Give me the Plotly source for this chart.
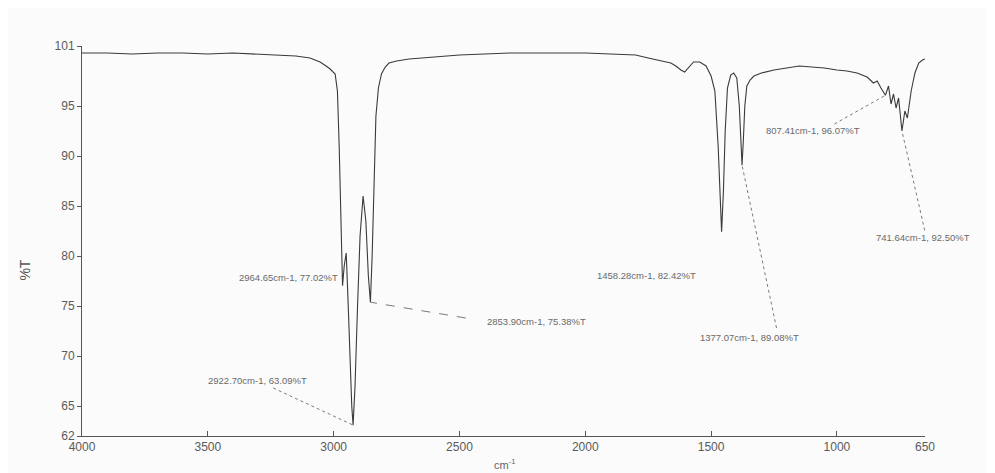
import plotly.graph_objects as go

# IR spectrum: wavenumber (cm-1) and transmittance (%T)
wavenumber = [4000, 3900, 3800, 3700, 3600, 3500, 3400, 3300, 3200, 3150, 3094, 3054, 3030, 3014, 2994,
              2985, 2978, 2972, 2964.65, 2958, 2950, 2942, 2935, 2928, 2922.7, 2915, 2905, 2895, 2883,
              2872, 2862, 2853.9, 2847, 2840, 2832, 2822, 2810, 2795, 2780, 2750, 2700, 2650, 2600,
              2500, 2400, 2300, 2200, 2100, 2000, 1900, 1800, 1750, 1700, 1660, 1640, 1620, 1605, 1590,
              1570, 1545, 1520, 1500, 1485, 1472, 1465, 1458.28, 1451, 1444, 1435, 1422, 1410, 1398,
              1388, 1382, 1377.07, 1372, 1366, 1358, 1345, 1330, 1300, 1250, 1200, 1150, 1100, 1050,
              1000, 960, 920, 880, 855, 840, 825, 807.41, 795, 785, 775, 765, 755, 741.64, 730, 720,
              705, 690, 675, 660, 650]
transmittance = [100.3, 100.3, 100.2, 100.3, 100.3, 100.2, 100.3, 100.2, 100.1, 100.0, 99.8, 99.4, 99.0, 98.7, 98.2,
                 96.5, 91.0, 84.0, 77.02, 79.0, 80.3, 75.0, 69.5, 65.0, 63.09, 67.0, 75.0, 82.0, 86.0,
                 83.5, 78.0, 75.38, 80.0, 88.0, 94.0, 96.8, 98.2, 98.9, 99.3, 99.5, 99.7, 99.8, 99.9,
                 100.1, 100.2, 100.3, 100.3, 100.3, 100.3, 100.2, 100.1, 99.8, 99.5, 99.3, 99.0, 98.6, 98.4, 98.8,
                 99.4, 99.4, 99.0, 98.0, 96.5, 91.0, 86.0, 82.42, 86.5, 92.5, 96.8, 98.1, 98.3, 97.8,
                 95.0, 91.5, 89.08, 91.5, 95.0, 97.0, 97.6, 98.0, 98.3, 98.6, 98.8, 99.0, 98.9, 98.8,
                 98.6, 98.5, 98.3, 97.9, 97.3, 97.5, 96.8, 96.07, 97.0, 95.2, 96.2, 94.8, 95.8, 92.5, 94.5, 93.8,
                 96.5, 98.3, 99.3, 99.6, 99.7]

x_ticks = [4000, 3500, 3000, 2500, 2000, 1500, 1000, 650]
y_ticks = [62, 65, 70, 75, 80, 85, 90, 95, 101]

peak_labels = ["2964.65cm-1, 77.02%T", "2853.90cm-1, 75.38%T", "2922.70cm-1, 63.09%T",
               "1458.28cm-1, 82.42%T", "1377.07cm-1, 89.08%T", "807.41cm-1, 96.07%T",
               "741.64cm-1, 92.50%T"]
peak_wn = [2964.65, 2853.90, 2922.70, 1458.28, 1377.07, 807.41, 741.64]
peak_t = [77.02, 75.38, 63.09, 82.42, 89.08, 96.07, 92.50]

# label placement (in data coords) and leader start
label_pos = [(3181, 77.9), (2192, 73.5), (3304, 67.6), (1758, 78.1), (1349, 71.9), (1095, 92.6), (657, 81.9)]
leader_start = [None, (2475, 73.8), (3240, 66.8), None, (1240, 72.8), (1010, 93.2), (635, 80.8)]
leader_dash = ["dot", "dash", "dot", "dot", "dot", "dot", "dot"]

fig = go.Figure()
fig.add_trace(go.Scatter(x=wavenumber, y=transmittance, mode="lines",
                         line=dict(color="#3a3a3a", width=1.1), showlegend=False))

font_small = dict(family="Liberation Sans, Arial, sans-serif", size=9.5, color="#6a6a6a")
for i, txt in enumerate(peak_labels):
    lx, ly = label_pos[i]
    fig.add_annotation(x=lx, y=ly, xref="x", yref="y", text=txt, showarrow=False, font=font_small)
    if leader_start[i] is not None:
        sx, sy = leader_start[i]
        fig.add_shape(type="line", xref="x", yref="y", x0=sx, y0=sy, x1=peak_wn[i], y1=peak_t[i],
                      line=dict(color="#7a7a7a", width=1, dash=leader_dash[i]))

fig.add_annotation(x=-0.08, y=0.4256, xref="paper", yref="paper", text="%T", textangle=-90,
                   showarrow=False, font=dict(family="Liberation Sans, Arial, sans-serif", size=14, color="#555"))
fig.add_annotation(x=0.502, y=-0.049, xref="paper", yref="paper", text="cm<sup>-1</sup>",
                   showarrow=False, yanchor="top",
                   font=dict(family="Liberation Sans, Arial, sans-serif", size=11, color="#666"))

axis_font = dict(family="Liberation Sans, Arial, sans-serif", size=12, color="#5a5a5a")
fig.update_xaxes(range=[4000, 650], tickvals=x_ticks, ticktext=[str(v) for v in x_ticks],
                 showgrid=False, zeroline=False, showline=True, linecolor="#555", linewidth=1,
                 ticks="inside", ticklen=5, tickcolor="#555", tickfont=axis_font)
fig.update_yaxes(range=[62, 101], tickvals=y_ticks, ticktext=[str(v) for v in y_ticks],
                 showgrid=False, zeroline=False, showline=True, linecolor="#555", linewidth=1,
                 ticks="outside", ticklen=4, tickcolor="#555", tickfont=axis_font)

fig.update_layout(width=995, height=473, margin=dict(l=74, r=78, t=38, b=45),
                  paper_bgcolor="#fbfbfb", plot_bgcolor="#fbfbfb")

fig.write_html("out.html")
